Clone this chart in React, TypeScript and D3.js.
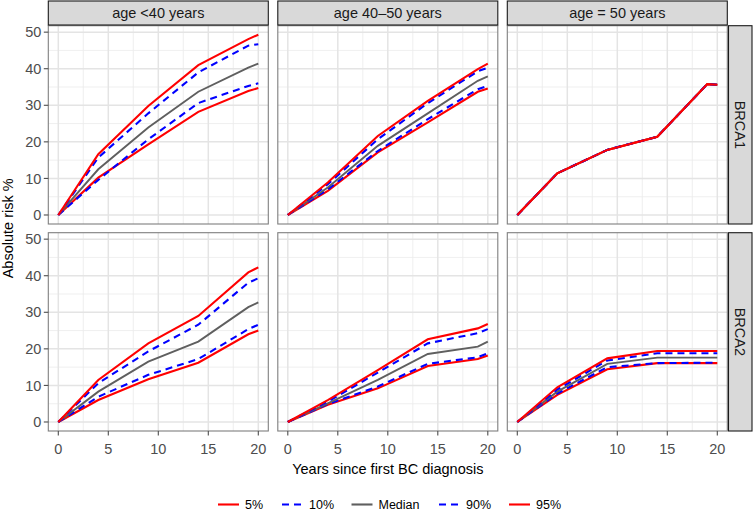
import React from "react";
import * as d3 from "d3";

// ---- data ----
const years = [0, 4, 9, 14, 19, 20];
const quantiles = ["5%", "10%", "Median", "90%", "95%"];
const ageGroups = ["age <40 years", "age 40\u201350 years", "age = 50 years"];
const genes = ["BRCA1", "BRCA2"];
const xTicks = [0, 5, 10, 15, 20];
const yTicks = [0, 10, 20, 30, 40, 50];

// each: rows = 5%, 10%, Median, 90%, 95%
const brca1Under40 = [
  [0, 10.2, 19.3, 28.2, 33.9, 34.7],
  [0, 9.6, 20.7, 30.6, 35.3, 36.0],
  [0, 12.5, 23.9, 33.7, 40.3, 41.4],
  [0, 15.7, 27.8, 39.0, 46.3, 46.7],
  [0, 16.6, 29.8, 41.0, 48.1, 49.3],
];
const brca1Age40to50 = [
  [0, 6.6, 17.1, 25.3, 33.7, 34.6],
  [0, 7.0, 17.5, 26.2, 34.4, 35.3],
  [0, 7.5, 18.9, 27.8, 36.7, 37.9],
  [0, 8.4, 20.7, 30.6, 39.3, 40.3],
  [0, 8.9, 21.6, 31.2, 39.9, 41.4],
];
const brca1Age50 = [
  [0, 11.4, 17.8, 21.4, 35.8, 35.6],
  [0, 11.4, 17.8, 21.4, 35.8, 35.6],
  [0, 11.4, 17.8, 21.4, 35.8, 35.6],
  [0, 11.4, 17.8, 21.4, 35.8, 35.6],
  [0, 11.4, 17.8, 21.4, 35.8, 35.6],
];
const brca2Under40 = [
  [0, 6.0, 11.7, 16.2, 24.0, 25.0],
  [0, 6.9, 12.9, 17.2, 25.4, 26.6],
  [0, 8.3, 16.5, 22.0, 31.4, 32.7],
  [0, 10.6, 19.3, 26.6, 38.1, 39.3],
  [0, 11.5, 21.5, 29.0, 40.9, 42.3],
];
const brca2Age40to50 = [
  [0, 4.7, 9.2, 15.3, 17.2, 18.2],
  [0, 4.9, 9.7, 15.9, 17.7, 18.8],
  [0, 5.1, 11.5, 18.6, 20.6, 22.0],
  [0, 5.6, 13.5, 21.5, 24.3, 25.4],
  [0, 6.0, 14.2, 22.6, 25.6, 26.8],
];
const brca2Age50 = [
  [0, 7.4, 14.4, 16.1, 16.1, 16.1],
  [0, 7.8, 15.0, 16.1, 16.2, 16.2],
  [0, 8.3, 15.9, 17.6, 17.6, 17.6],
  [0, 8.9, 16.8, 18.8, 18.8, 18.8],
  [0, 9.5, 17.4, 19.4, 19.4, 19.4],
];

const panels = [
  [brca1Under40, brca1Age40to50, brca1Age50],
  [brca2Under40, brca2Age40to50, brca2Age50],
];

// ---- styles ----
const qColors = ["#ff0000", "#0000ff", "#5f5f5f", "#0000ff", "#ff0000"];
const qDash = [null, "7 5", null, "7 5", null];
const FONT = "'Liberation Sans', Arial, Helvetica, sans-serif";

const W = 754;
const H = 512;
const panelLeft0 = 48.3;
const panelW = 220;
const gapX = 9.5;
const rowTop0 = 25.7;
const panelH = 198.3;
const gapY = 8.7;
const stripH = 24;
const rightStripW = 24.5;

export default function App() {
  const allVals = panels.flat(3) as number[];
  const yMax = d3.max(allVals) as number;
  const yMin = 0;
  const yPad = (yMax - yMin) * 0.05;
  const xMin = d3.min(years) as number;
  const xMax = d3.max(years) as number;
  const xPad = (xMax - xMin) * 0.05;

  const x = d3.scaleLinear().domain([xMin - xPad, xMax + xPad]).range([0, panelW]);
  const y = d3.scaleLinear().domain([yMin - yPad, yMax + yPad]).range([panelH, 0]);

  const line = d3
    .line<[number, number]>()
    .x((d) => x(d[0]))
    .y((d) => y(d[1]));

  const xMajor = xTicks;
  const xMinor = xTicks.slice(0, -1).map((t, i) => (t + xTicks[i + 1]) / 2);
  const yMajor = yTicks;
  const yMinor = yTicks.slice(0, -1).map((t, i) => (t + yTicks[i + 1]) / 2);

  const panelLeft = (c: number) => panelLeft0 + c * (panelW + gapX);
  const panelTop = (r: number) => rowTop0 + r * (panelH + gapY);
  const bottomY = panelTop(1) + panelH;
  const rightX = panelLeft(2) + panelW;

  const legendItems = [
    { x: 218, label: quantiles[0], q: 0 },
    { x: 282, label: quantiles[1], q: 1 },
    { x: 351.5, label: quantiles[2], q: 2 },
    { x: 439, label: quantiles[3], q: 3 },
    { x: 509, label: quantiles[4], q: 4 },
  ];

  return (
    <svg
      width={W}
      height={H}
      style={{ position: "absolute", left: 0, top: 0, background: "#fff" }}
      fontFamily={FONT}
    >
      <rect x={0} y={0} width={W} height={H} fill="#fff" />
      {panels.map((row, r) =>
        row.map((series, c) => {
          const tx = panelLeft(c);
          const ty = panelTop(r);
          return (
            <g key={`${r}-${c}`} transform={`translate(${tx},${ty})`}>
              <rect x={0} y={0} width={panelW} height={panelH} fill="#fff" />
              {xMinor.map((t) => (
                <line key={`xm${t}`} x1={x(t)} x2={x(t)} y1={0} y2={panelH} stroke="#ebebeb" strokeWidth={0.8} />
              ))}
              {yMinor.map((t) => (
                <line key={`ym${t}`} x1={0} x2={panelW} y1={y(t)} y2={y(t)} stroke="#ebebeb" strokeWidth={0.8} />
              ))}
              {xMajor.map((t) => (
                <line key={`xM${t}`} x1={x(t)} x2={x(t)} y1={0} y2={panelH} stroke="#e4e4e4" strokeWidth={1.5} />
              ))}
              {yMajor.map((t) => (
                <line key={`yM${t}`} x1={0} x2={panelW} y1={y(t)} y2={y(t)} stroke="#e4e4e4" strokeWidth={1.5} />
              ))}
              {series.map((vals, qi) => (
                <path
                  key={`q${qi}`}
                  d={line(years.map((yr, i) => [yr, vals[i]] as [number, number])) || ""}
                  fill="none"
                  stroke={qColors[qi]}
                  strokeWidth={qi === 2 ? 1.9 : 2.1}
                  strokeDasharray={qDash[qi] || undefined}
                />
              ))}
              <rect x={0} y={0} width={panelW} height={panelH} fill="none" stroke="#7f7f7f" strokeWidth={1.1} />
              {c === 0 &&
                yTicks.map((t) => (
                  <g key={`yt${t}`}>
                    <line x1={-4.5} x2={0} y1={y(t)} y2={y(t)} stroke="#4d4d4d" strokeWidth={1.1} />
                    <text x={-7} y={y(t)} dy="0.36em" textAnchor="end" fontSize={14.5} fill="#4d4d4d">
                      {t}
                    </text>
                  </g>
                ))}
              {r === 1 &&
                xTicks.map((t) => (
                  <g key={`xt${t}`}>
                    <line x1={x(t)} x2={x(t)} y1={panelH} y2={panelH + 4.5} stroke="#4d4d4d" strokeWidth={1.1} />
                    <text x={x(t)} y={panelH + 17.5} dy="0.36em" textAnchor="middle" fontSize={14.5} fill="#4d4d4d">
                      {t}
                    </text>
                  </g>
                ))}
            </g>
          );
        })
      )}
      {/* top strips */}
      {ageGroups.map((g, c) => (
        <g key={g} transform={`translate(${panelLeft(c)},${rowTop0 - stripH - 0.7})`}>
          <rect x={0} y={0} width={panelW} height={stripH} fill="#d9d9d9" stroke="#1a1a1a" strokeWidth={1.1} />
          <text x={panelW / 2} y={stripH / 2} dy="0.36em" textAnchor="middle" fontSize={14.5} fill="#1a1a1a">
            {g}
          </text>
        </g>
      ))}
      {/* right strips */}
      {genes.map((g, r) => (
        <g key={g} transform={`translate(${rightX + 1.2},${panelTop(r)})`}>
          <rect x={0} y={0} width={rightStripW - 1} height={panelH} fill="#d9d9d9" stroke="#1a1a1a" strokeWidth={1.1} />
          <text
            transform={`translate(${(rightStripW - 1) / 2},${panelH / 2}) rotate(90)`}
            dy="0.36em"
            textAnchor="middle"
            fontSize={14.5}
            fill="#1a1a1a"
          >
            {g}
          </text>
        </g>
      ))}
      {/* axis titles */}
      <text
        x={panelLeft(1) + panelW / 2}
        y={bottomY + 38}
        dy="0.36em"
        textAnchor="middle"
        fontSize={14.5}
        fill="#000"
      >
        Years since first BC diagnosis
      </text>
      <text
        transform={`translate(7.5,${(rowTop0 + bottomY) / 2}) rotate(-90)`}
        dy="0.36em"
        textAnchor="middle"
        fontSize={14.5}
        fill="#000"
      >
        Absolute risk %
      </text>
      {/* legend */}
      {legendItems.map((it) => (
        <g key={it.label} transform={`translate(${it.x},504.5)`}>
          <line
            x1={0}
            x2={21}
            y1={0}
            y2={0}
            stroke={qColors[it.q]}
            strokeWidth={2.1}
            strokeDasharray={qDash[it.q] || undefined}
          />
          <text x={27} y={0} dy="0.36em" fontSize={12.5} fill="#000">
            {it.label}
          </text>
        </g>
      ))}
    </svg>
  );
}
